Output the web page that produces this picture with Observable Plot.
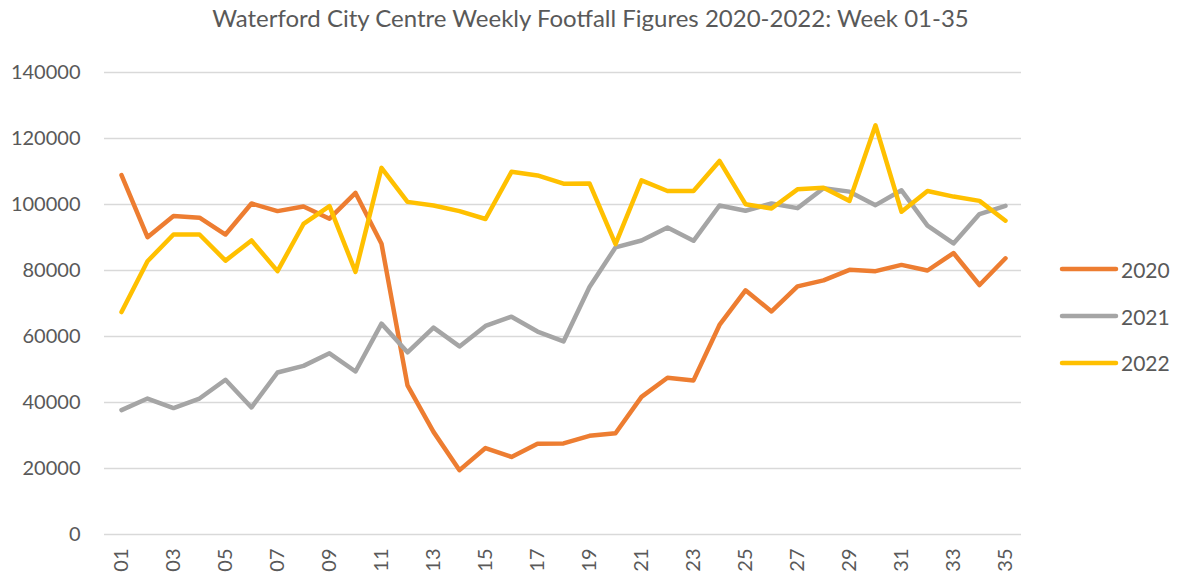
<!DOCTYPE html>
<html>
<head>
<meta charset="utf-8">
<script src="https://cdn.jsdelivr.net/npm/d3@7"></script>
<script src="https://cdn.jsdelivr.net/npm/@observablehq/plot@0.6"></script>
<style>
  html, body { margin: 0; padding: 0; background: #fff; }
  #wrap { position: relative; width: 1181px; height: 579px; font-family: Lato, "Open Sans", sans-serif; color: #595959; }
  #title { height: 40px; box-sizing: border-box; padding-top: 4px; text-align: center; font-size: 24px; line-height: 28px; }
  #legend { position: absolute; left: 1058px; top: 246px; }
  .row { display: flex; align-items: center; height: 46.7px; font-size: 21px; }
  .row svg { margin-right: 1px; }
</style>
</head>
<body>
<div id="wrap">
  <div id="title">Waterford City Centre Weekly Footfall Figures 2020-2022: Week 01-35</div>
  <div id="chart"></div>
  <div id="legend"></div>
</div>
<script>
const weeks = ["01","02","03","04","05","06","07","08","09","10","11","12","13","14","15","16","17","18","19","20","21","22","23","24","25","26","27","28","29","30","31","32","33","34","35"];
const xTickLabels = ["01","03","05","07","09","11","13","15","17","19","21","23","25","27","29","31","33","35"];
const yTicks = [0, 20000, 40000, 60000, 80000, 100000, 120000, 140000];
const years = ["2020", "2021", "2022"];
const colors = ["#ED7D31", "#A5A5A5", "#FFC000"];

const v2020 = [108900, 90100, 96500, 96000, 90900, 100300, 98000, 99400, 95700, 103500, 88100, 45200, 31100, 19500, 26200, 23500, 27500, 27600, 29900, 30700, 41700, 47500, 46700, 63500, 74000, 67600, 75200, 77000, 80200, 79800, 81700, 80000, 85300, 75600, 83700];
const v2021 = [37700, 41200, 38300, 41200, 46900, 38500, 49100, 51100, 54900, 49400, 63900, 55200, 62700, 57000, 63200, 66000, 61500, 58500, 75000, 87000, 89100, 93000, 89000, 99700, 98100, 100300, 98900, 104900, 103900, 99800, 104300, 93600, 88200, 97100, 99600];
const v2022 = [67400, 82800, 90900, 90900, 83000, 89100, 79800, 94100, 99500, 79600, 111100, 100800, 99700, 98000, 95600, 109900, 108800, 106300, 106400, 88000, 107300, 104100, 104100, 113200, 100100, 98800, 104600, 105100, 101100, 124000, 97800, 104100, 102400, 101100, 95100];

const series = [v2020, v2021, v2022];
const data = [];
years.forEach((yr, j) => weeks.forEach((w, i) => data.push({week: w, year: yr, value: series[j][i]})));

const chart = Plot.plot({
  width: 1181,
  height: 539,
  marginTop: 32,
  marginLeft: 104,
  marginRight: 160,
  marginBottom: 45,
  style: {fontFamily: "Lato, 'Open Sans', sans-serif", fontSize: "20px", color: "#595959", background: "#fff"},
  x: {type: "point", domain: weeks, padding: 0.5, label: null},
  y: {domain: [0, 140000], label: null},
  color: {domain: years, range: colors},
  marks: [
    Plot.ruleY(yTicks, {stroke: "#d9d9d9", strokeWidth: 1.5}),
    Plot.axisY(yTicks, {tickSize: 0, tickPadding: 24, tickFormat: d => String(d), label: null, fontSize: 20}),
    Plot.axisX(xTickLabels, {tickSize: 0, tickPadding: 14, tickRotate: -90, label: null, fontSize: 20}),
    Plot.line(data, {x: "week", y: "value", z: "year", stroke: "year", strokeWidth: 4.5, strokeLinejoin: "round", strokeLinecap: "round"})
  ]
});
document.getElementById("chart").appendChild(chart);

const legend = document.getElementById("legend");
years.forEach((yr, j) => {
  const row = document.createElement("div");
  row.className = "row";
  row.innerHTML = `<svg width="62" height="10"><line x1="4" y1="5" x2="58" y2="5" stroke="${colors[j]}" stroke-width="4.5" stroke-linecap="round"/></svg><span>${yr}</span>`;
  legend.appendChild(row);
});
</script>
</body>
</html>
